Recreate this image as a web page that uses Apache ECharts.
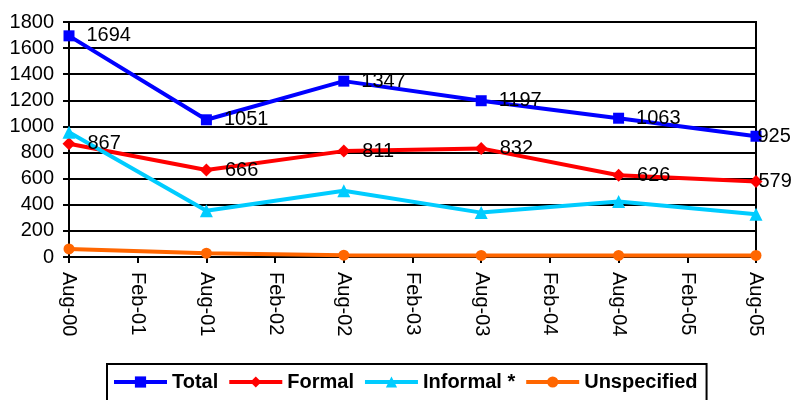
<!DOCTYPE html>
<html>
<head>
<meta charset="utf-8">
<script src="https://cdn.jsdelivr.net/npm/echarts@6/dist/echarts.min.js"></script>
<style>
  html, body { margin: 0; padding: 0; background: #fff; }
  #chart { width: 791px; height: 400px; }
</style>
</head>
<body>
<div id="chart"></div>
<script>
// Half-yearly tick labels along the time axis
const tickLabels = ['Aug-00', 'Feb-01', 'Aug-01', 'Feb-02', 'Aug-02', 'Feb-03',
                    'Aug-03', 'Feb-04', 'Aug-04', 'Feb-05', 'Aug-05'];
// Observations are taken each August
const obsDates = ['Aug-00', 'Aug-01', 'Aug-02', 'Aug-03', 'Aug-04', 'Aug-05'];

const total       = [1694, 1051, 1347, 1197, 1063, 925];
const formal      = [867, 666, 811, 832, 626, 579];
const informal    = [955, 355, 508, 340, 425, 328];
const unspecified = [62, 29, 14, 12, 12, 12];

const FONT = "'Liberation Sans', Arial, sans-serif";

function pairs(values, withLabels) {
  return values.map((v, i) => {
    const item = { value: [obsDates[i], v] };
    if (withLabels && i === values.length - 1) {
      // last point: label tucked against the plot edge
      item.label = { offset: [-16, 0] };
    }
    return item;
  });
}

function lineSeries(name, values, color, symbol, size, withLabels) {
  return {
    name: name,
    type: 'line',
    data: pairs(values, withLabels),
    symbol: symbol,
    symbolSize: size,
    lineStyle: { color: color, width: 4 },
    itemStyle: { color: color },
    label: withLabels ? {
      show: true,
      position: 'right',
      distance: 12,
      color: '#000',
      fontFamily: FONT,
      fontSize: 20,
      formatter: p => p.value[1]
    } : { show: false },
    animation: false,
    z: 3
  };
}

const chart = echarts.init(document.getElementById('chart'));
chart.setOption({
  backgroundColor: '#fff',
  animation: false,
  grid: {
    left: 69, right: 35, top: 22, bottom: 143,
    show: true, borderColor: '#000', borderWidth: 2, backgroundColor: 'transparent'
  },
  xAxis: {
    type: 'category',
    data: tickLabels,
    boundaryGap: false,
    axisLine: { lineStyle: { color: '#000', width: 2 } },
    axisTick: { show: true, length: 6, lineStyle: { color: '#000', width: 2 } },
    axisLabel: {
      rotate: -90,
      margin: 15,
      color: '#000',
      fontFamily: FONT,
      fontSize: 20,
      interval: 0
    },
    splitLine: { show: false }
  },
  yAxis: {
    type: 'value',
    min: 0, max: 1800, interval: 200,
    axisLine: { show: true, lineStyle: { color: '#000', width: 2 } },
    axisTick: { show: true, length: 6, lineStyle: { color: '#000', width: 2 } },
    axisLabel: {
      margin: 15, color: '#000', fontFamily: FONT, fontSize: 20,
      formatter: v => String(v)
    },
    splitLine: { show: true, lineStyle: { color: '#000', width: 2 } }
  },
  legend: {
    left: 107,
    top: 364,
    data: ['Total', 'Formal', 'Informal *', 'Unspecified'],
    itemWidth: 53,
    itemHeight: 14,
    itemGap: 9,
    padding: [8, 9, 12, 5],
    borderColor: '#000',
    borderWidth: 2,
    lineStyle: { width: 4 },
    textStyle: { color: '#000', fontFamily: FONT, fontSize: 20, fontWeight: 'bold' }
  },
  series: [
    lineSeries('Total', total, '#0000FF', 'rect', 11, true),
    lineSeries('Formal', formal, '#FF0000', 'diamond', 13, true),
    lineSeries('Informal *', informal, '#00CCFF', 'triangle', 13, false),
    lineSeries('Unspecified', unspecified, '#FF6600', 'circle', 11, false)
  ]
});
</script>
</body>
</html>
